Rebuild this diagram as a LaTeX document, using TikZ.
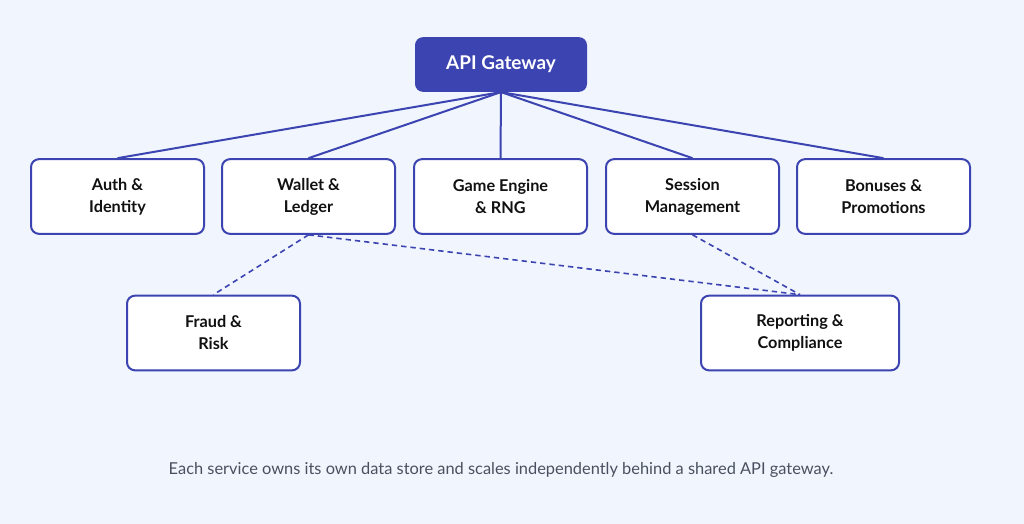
\documentclass[tikz,border=0pt]{standalone}
\usepackage{fontspec}
\setmainfont{Lato}
\usepackage{tikz}
\usetikzlibrary{calc}
\usepackage{xcolor}
\definecolor{bg}{HTML}{F1F5FD}
\definecolor{C0}{HTML}{3B44B0}
\definecolor{txt}{HTML}{111111}
\definecolor{cap}{HTML}{4B5060}
\tikzset{
  service/.style={draw=C0,line width=1.5pt,fill=white,rounded corners=6pt,
    minimum width=129.75pt,minimum height=56pt,align=center,
    font=\fontsize{12.2}{16.5}\selectfont\bfseries,text=txt},
  gateway/.style={fill=C0,rounded corners=6pt,minimum width=129pt,minimum height=41pt,
    font=\fontsize{14.2}{16}\selectfont\bfseries,text=white},
  link/.style={draw=C0,line width=1.5pt},
  dlink/.style={draw=C0,line width=1.2pt,dash pattern=on 4pt off 3pt}
}
\begin{document}
\begin{tikzpicture}[x=0.75pt,y=-0.75pt]
\fill[bg] (0,0) rectangle (1024,524);
\useasboundingbox (0,0) rectangle (1024,524);

\node[gateway] (gw) at (501,64.5) {API Gateway};

\node[service] (auth)    at (117.5,196.5) {Auth \&\\Identity};
\node[service] (wallet)  at (308.5,196.5) {Wallet \&\\Ledger};
\node[service] (game)    at (500.5,196.5) {Game Engine\\\& RNG};
\node[service] (session) at (692.5,196.5) {Session\\Management};
\node[service] (bonus)   at (883.5,196.5) {Bonuses \&\\Promotions};

\node[service] (fraud)  at (213.5,333) {Fraud \&\\Risk};
\node[service,minimum width=148.5pt] (report) at (800,333) {Reporting \&\\Compliance};

\foreach \s in {auth,wallet,game,session,bonus}
  \draw[link] (gw.south) -- (\s.north);

\draw[dlink] (wallet.south) -- (fraud.north);
\draw[dlink] (wallet.south) -- (report.north);
\draw[dlink] (session.south) -- (report.north);

\node[font=\fontsize{12.3}{14}\selectfont,text=cap] (note) at (501,470)
  {Each service owns its own data store and scales independently behind a shared API gateway.};
\end{tikzpicture}
\end{document}
